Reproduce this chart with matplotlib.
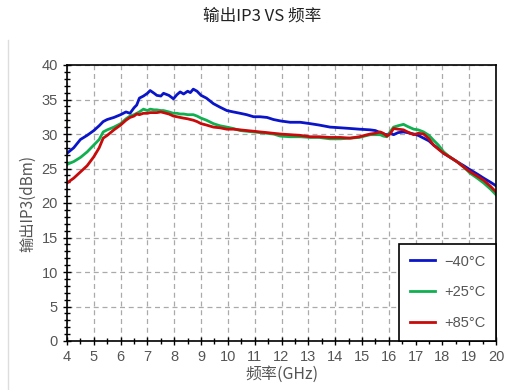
import numpy as np
import matplotlib
matplotlib.use("Agg")
import matplotlib.pyplot as plt
from matplotlib.ticker import MultipleLocator
from matplotlib.lines import Line2D

plt.rcParams["font.family"] = ["Liberation Sans", "Noto Sans CJK SC", "DejaVu Sans"]

# frequency grid (GHz) and IP3 readings (dBm) for each temperature
freq = [4.0, 4.25, 4.5, 4.75, 5.0, 5.2, 5.35, 5.5, 5.75, 6.0, 6.2, 6.35, 6.5, 6.6, 6.7,
        6.85, 7.0, 7.1, 7.25, 7.35, 7.5, 7.6, 7.8, 7.97, 8.1, 8.22, 8.35, 8.5, 8.6,
        8.71, 8.85, 9.0, 9.2, 9.46, 9.7, 9.96, 10.2, 10.46, 10.7, 10.96, 11.2, 11.46,
        11.7, 11.95, 12.32, 12.7, 13.07, 13.4, 13.81, 14.2, 14.56, 14.9, 15.31, 15.5,
        15.68, 15.8, 15.93, 16.05, 16.18, 16.35, 16.55, 16.7, 16.93, 17.1, 17.3,
        17.5, 17.67, 17.85, 18.05, 18.3, 18.54, 18.8, 19.04, 19.3, 19.54, 19.8, 20.0]

ip3_m40 = [27.2, 28.0, 29.2, 29.8, 30.5, 31.2, 31.8, 32.1, 32.4, 32.8, 33.2, 33.0, 33.8, 34.2, 35.2,
           35.5, 35.9, 36.3, 35.9, 35.6, 35.5, 35.9, 35.6, 35.1, 35.7, 36.1, 35.8, 36.2, 36.0,
           36.5, 36.2, 35.6, 35.2, 34.4, 33.9, 33.4, 33.2, 33.0, 32.8, 32.5, 32.5, 32.4,
           32.1, 31.9, 31.7, 31.7, 31.5, 31.3, 31.0, 30.9, 30.8, 30.7, 30.6, 30.5,
           30.2, 30.0, 29.9, 30.1, 29.9, 30.2, 30.3, 30.2, 30.0, 29.8, 29.4,
           29.0, 28.4, 27.9, 27.2, 26.6, 26.0, 25.4, 24.8, 24.2, 23.6, 23.0, 22.5]

ip3_p25 = [25.6, 26.0, 26.6, 27.4, 28.4, 29.2, 30.3, 30.6, 31.0, 31.5, 32.2, 32.6, 32.8, 33.0, 33.2,
           33.6, 33.4, 33.6, 33.5, 33.5, 33.4, 33.4, 33.2, 33.0, 33.0, 32.9, 32.9, 32.8, 32.8,
           32.8, 32.6, 32.3, 32.0, 31.5, 31.2, 31.0, 30.8, 30.5, 30.4, 30.3, 30.2, 30.1,
           30.0, 29.7, 29.6, 29.6, 29.5, 29.5, 29.3, 29.3, 29.4, 29.5, 29.9, 29.9,
           29.9, 29.7, 29.6, 30.3, 31.0, 31.2, 31.4, 31.1, 30.7, 30.6, 30.3,
           29.8, 29.1, 28.4, 27.4, 26.6, 26.0, 25.2, 24.3, 23.6, 22.9, 22.0, 21.2]

ip3_p85 = [22.9, 23.6, 24.5, 25.4, 26.7, 28.0, 29.4, 29.8, 30.6, 31.3, 32.0, 32.4, 32.6, 32.9, 32.8,
           33.0, 33.0, 33.1, 33.1, 33.1, 33.2, 33.1, 32.9, 32.6, 32.5, 32.4, 32.3, 32.2, 32.1,
           32.0, 31.8, 31.5, 31.3, 31.0, 30.9, 30.7, 30.7, 30.6, 30.5, 30.4, 30.3, 30.2,
           30.1, 30.0, 29.9, 29.8, 29.6, 29.6, 29.5, 29.5, 29.4, 29.6, 30.0, 30.1,
           30.3, 30.1, 29.7, 30.0, 30.8, 30.7, 30.6, 30.3, 29.9, 30.1, 30.0,
           29.3, 28.4, 27.8, 27.2, 26.6, 26.0, 25.2, 24.5, 23.9, 23.3, 22.4, 21.6]

labels = ["\u221240\u00b0C", "+25\u00b0C", "+85\u00b0C"]
colors = ["#0a14c8", "#10b050", "#c80a0a"]
cjk = ["Noto Sans CJK SC", "DejaVu Sans"]

fig = plt.figure(figsize=(5.11, 3.90), dpi=100)
ax = fig.add_axes([67 / 511, 49 / 390, 429 / 511, 276 / 390])

for y, lab, c in zip([ip3_m40, ip3_p25, ip3_p85], labels, colors):
    ax.plot(freq, y, color=c, lw=2.0, label=lab)

ax.set_xlim(4, 20)
ax.set_ylim(0, 40)
ax.xaxis.set_major_locator(MultipleLocator(1))
ax.xaxis.set_minor_locator(MultipleLocator(0.5))
ax.yaxis.set_major_locator(MultipleLocator(5))
ax.yaxis.set_minor_locator(MultipleLocator(1))
ax.tick_params(which="both", direction="inout", colors="black", labelcolor="#555555",
               labelsize=10.5, width=1)
ax.tick_params(which="major", length=6)
ax.tick_params(which="minor", length=4)
ax.grid(True, which="major", ls=(0, (4, 3)), color="#aaaaaa", lw=0.9)
for sp in ax.spines.values():
    sp.set_linewidth(1.2)

ax.set_xlabel("频率(GHz)", family=cjk, color="#555555", fontsize=11.5, labelpad=1)
ax.set_ylabel("输出IP3(dBm)", family=cjk, color="#555555", fontsize=11, labelpad=4)
fig.text(262 / 511, 1 - 16 / 390, "输出IP3 VS 频率", ha="center", va="center",
         family=cjk, fontsize=12, color="#222222")

leg = ax.legend(loc="lower right", borderaxespad=0, fancybox=False, edgecolor="black",
                framealpha=1, fontsize=10.5, handlelength=1.7, labelspacing=1.15,
                borderpad=0.75, handletextpad=0.6)
leg.get_frame().set_linewidth(1.2)
for t in leg.get_texts():
    t.set_color("#555555")

fig.add_artist(Line2D([8 / 511, 8 / 511], [0, 1 - 40 / 390], color="#dddddd", lw=1))

fig.savefig("out.png", dpi=100)
